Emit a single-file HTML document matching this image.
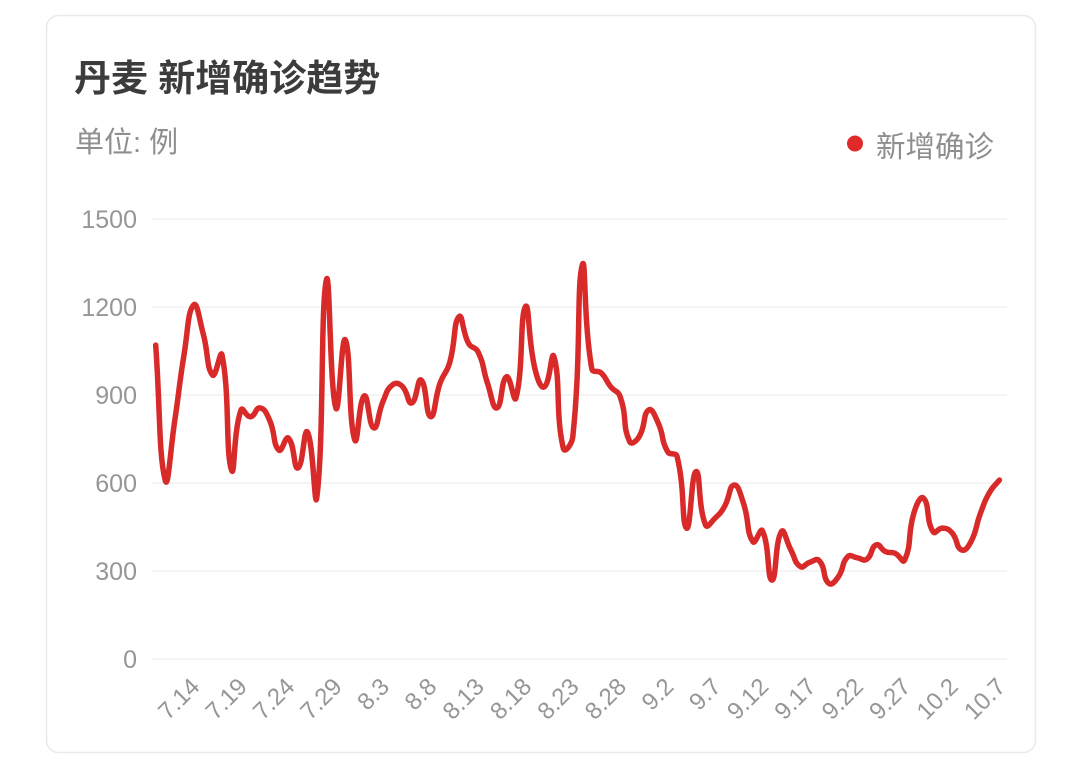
<!DOCTYPE html>
<html>
<head>
<meta charset="utf-8">
<style>
html,body{margin:0;padding:0;background:#fff;}
body{width:1079px;height:777px;overflow:hidden;}
svg{display:block;}
.cjk{font-family:"Liberation Sans","Noto Sans CJK SC",sans-serif;}
.num{font-family:"Liberation Sans",sans-serif;}
</style>
</head>
<body>
<svg id="chart" width="1079" height="777" viewBox="0 0 1079 777" xmlns="http://www.w3.org/2000/svg">
  <rect x="46.5" y="15.5" width="989" height="737" rx="12" ry="12" fill="#fff" stroke="#e9e9e9" stroke-width="1.5"/>
  <text x="74" y="91" class="cjk" font-size="37" font-weight="bold" fill="#3c3c3c">丹麦 新增确诊趋势</text>
  <text x="75" y="152" class="cjk" font-size="29" fill="#8f8f8f">单位: 例</text>
  <circle cx="855" cy="143.5" r="8" fill="#e02a2a"/>
  <text x="876" y="157" class="cjk" font-size="29.5" fill="#8f8f8f">新增确诊</text>

  <g stroke="#f1f1f1" stroke-width="1.5">
    <line x1="152" y1="219" x2="1007" y2="219"/>
    <line x1="152" y1="307" x2="1007" y2="307"/>
    <line x1="152" y1="395" x2="1007" y2="395"/>
    <line x1="152" y1="483" x2="1007" y2="483"/>
    <line x1="152" y1="571" x2="1007" y2="571"/>
    <line x1="152" y1="659" x2="1007" y2="659"/>
  </g>
  <g class="num" font-size="25" fill="#969696" text-anchor="end">
    <text x="137" y="228">1500</text>
    <text x="137" y="316">1200</text>
    <text x="137" y="404">900</text>
    <text x="137" y="492">600</text>
    <text x="137" y="580">300</text>
    <text x="137" y="668">0</text>
  </g>
  <g id="xlabels" class="num" font-size="24" fill="#969696" text-anchor="end"></g>
  <path id="line" d="" fill="none" stroke="#d92a2a" stroke-width="5.5" stroke-linejoin="round" stroke-linecap="round"/>
</svg>
<script>
(function(){
  var vals=[1070,610,810,1040,1207,1110,968,1036,644,849,826,856,815,712,753,651,774,552,1292,856,1088,747,897,788,880,935,930,873,951,826,941,1009,1167,1076,1047,940,856,962,890,1201,990,928,1031,718,758,1343,990,975,928,894,741,758,849,805,707,690,446,639,457,480,520,593,531,400,437,269,434,372,315,330,335,258,280,349,345,340,389,366,360,337,500,548,434,446,430,372,400,497,570,610];
  var x0=155.7, dx=9.48;
  var pts=vals.map(function(v,i){return [x0+dx*i, 659-v*88/300];});
  var n=pts.length, s=0.5, A=[], B=[];
  for(var i=0;i<n;i++){
    var p=pts[i], pr=pts[Math.max(0,i-1)], nx=pts[Math.min(n-1,i+1)];
    var vx=nx[0]-pr[0], vy=nx[1]-pr[1];
    var d0=Math.hypot(p[0]-pr[0],p[1]-pr[1]), d1=Math.hypot(nx[0]-p[0],nx[1]-p[1]);
    var sum=d0+d1; if(sum){d0/=sum;d1/=sum;}
    A[i]=[p[0]-vx*s*d0, p[1]-vy*s*d0];
    B[i]=[p[0]+vx*s*d1, p[1]+vy*s*d1];
  }
  var d='M'+pts[0][0].toFixed(2)+','+pts[0][1].toFixed(2);
  for(var j=1;j<n;j++){
    d+=' C'+B[j-1][0].toFixed(2)+','+B[j-1][1].toFixed(2)+' '+A[j][0].toFixed(2)+','+A[j][1].toFixed(2)+' '+pts[j][0].toFixed(2)+','+pts[j][1].toFixed(2);
  }
  document.getElementById('line').setAttribute('d',d);

  var labels=['7.14','7.19','7.24','7.29','8.3','8.8','8.13','8.18','8.23','8.28','9.2','9.7','9.12','9.17','9.22','9.27','10.2','10.7'];
  var g=document.getElementById('xlabels');
  var NS='http://www.w3.org/2000/svg';
  labels.forEach(function(t,k){
    var idx=4+5*k;
    var ax=x0+dx*idx+7.5, ay=688;
    var el=document.createElementNS(NS,'text');
    el.setAttribute('x',ax.toFixed(1));
    el.setAttribute('y',ay);
    el.setAttribute('transform','rotate(-45 '+ax.toFixed(1)+' '+ay+')');
    el.textContent=t;
    g.appendChild(el);
  });
})();
</script>
</body>
</html>
